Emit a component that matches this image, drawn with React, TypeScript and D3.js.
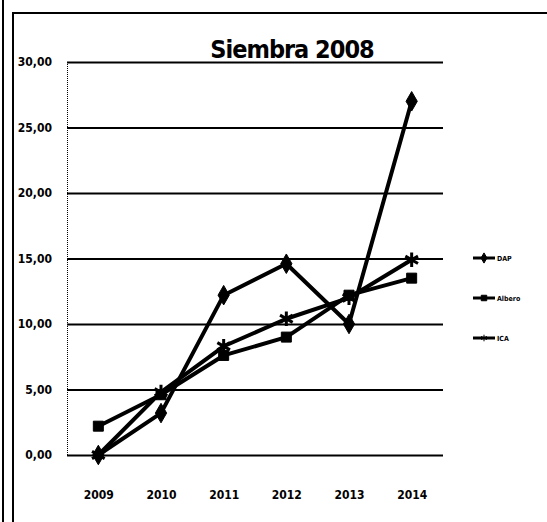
import * as d3 from 'd3';
import React, { useEffect, useRef } from 'react';

const years = ['2009', '2010', '2011', '2012', '2013', '2014'];
const dap = [0.0, 3.2, 12.2, 14.6, 10.0, 27.0];
const albero = [2.2, 4.6, 7.6, 9.0, 12.2, 13.5];
const ica = [0.0, 4.8, 8.3, 10.4, 12.0, 14.9];
const seriesNames = ['DAP', 'Albero', 'ICA'];
const yTicks = [0, 5, 10, 15, 20, 25, 30];

const width = 547;
const height = 522;
const marginTop = 62;
const marginRight = 104;
const marginBottom = 67;
const marginLeft = 67;
const font = '"DejaVu Sans Condensed", "DejaVu Sans", sans-serif';

export default function App() {
  const svgRef = useRef<SVGSVGElement | null>(null);

  useEffect(() => {
    const svg = d3.select(svgRef.current);
    svg.selectAll('*').remove();

    const x = d3.scalePoint<string>()
      .domain(years)
      .range([marginLeft, width - marginRight])
      .padding(0.5);

    const y = d3.scaleLinear()
      .domain([0, 30])
      .range([height - marginBottom, marginTop]);

    // outer frame bits
    svg.append('line').attr('x1', 3).attr('x2', 3).attr('y1', 0).attr('y2', height)
      .attr('stroke', '#000').attr('stroke-width', 2);
    svg.append('line').attr('x1', 13).attr('x2', 13).attr('y1', 13).attr('y2', height)
      .attr('stroke', '#000').attr('stroke-width', 2);
    svg.append('line').attr('x1', 12).attr('x2', width).attr('y1', 13).attr('y2', 13)
      .attr('stroke', '#000').attr('stroke-width', 2);

    // gridlines + y labels
    svg.append('g')
      .attr('transform', `translate(${marginLeft},0)`)
      .call(d3.axisLeft(y).tickValues(yTicks)
        .tickSize(-(width - marginLeft - marginRight))
        .tickPadding(15)
        .tickFormat(d => d3.format('.2f')(d as number).replace('.', ',')))
      .call(g => g.select('.domain').attr('stroke', '#000').attr('stroke-width', 1)
        .attr('stroke-dasharray', '1,1').attr('d', `M0.5,${marginTop}V${height - marginBottom}`))
      .call(g => g.selectAll('.tick line').attr('stroke', '#000').attr('stroke-width', 2))
      .call(g => g.selectAll('.tick text')
        .attr('font-family', font).attr('font-weight', 'bold').attr('font-size', 12)
        .attr('fill', '#000'));

    // x labels
    svg.append('g')
      .attr('transform', `translate(0,${height - marginBottom})`)
      .call(d3.axisBottom(x).tickSize(0).tickPadding(35))
      .call(g => g.select('.domain').remove())
      .call(g => g.selectAll('.tick text')
        .attr('font-family', font).attr('font-weight', 'bold').attr('font-size', 12)
        .attr('fill', '#000'));

    // title
    svg.append('text')
      .attr('x', 292).attr('y', 58)
      .attr('text-anchor', 'middle')
      .attr('font-family', font).attr('font-weight', 'bold').attr('font-size', 25)
      .attr('letter-spacing', -1)
      .text('Siembra 2008');

    const data = [dap, albero, ica];
    const symbols = [d3.symbolDiamond, d3.symbolSquare, d3.symbolAsterisk];
    const sizes = [110, 100, 150];

    const line = d3.line<number>()
      .x((_, i) => x(years[i])!)
      .y(d => y(d));

    data.forEach((vals, s) => {
      svg.append('path')
        .datum(vals)
        .attr('fill', 'none')
        .attr('stroke', '#000')
        .attr('stroke-width', 4)
        .attr('stroke-linejoin', 'round')
        .attr('d', line);

      const sym = d3.symbol().type(symbols[s]).size(sizes[s]);
      svg.append('g').selectAll('path')
        .data(vals)
        .join('path')
        .attr('transform', (d, i) => `translate(${x(years[i])},${y(d)})`)
        .attr('d', sym)
        .attr('fill', '#000')
        .attr('stroke', '#000')
        .attr('stroke-width', s === 2 ? 3 : 1);
    });

    // legend
    const legend = svg.append('g').attr('transform', 'translate(473,258)');
    seriesNames.forEach((name, s) => {
      const g = legend.append('g').attr('transform', `translate(0,${s * 40})`);
      g.append('line').attr('x1', 0).attr('x2', 22).attr('y1', 0).attr('y2', 0)
        .attr('stroke', '#000').attr('stroke-width', 3);
      g.append('path').attr('transform', 'translate(11,0)')
        .attr('d', d3.symbol().type(symbols[s]).size(30)).attr('fill', '#000')
        .attr('stroke', '#000');
      g.append('text').attr('x', 24).attr('y', 3)
        .attr('font-family', font).attr('font-weight', 'bold').attr('font-size', 7)
        .text(name);
    });
  }, []);

  return (
    <svg ref={svgRef} width={width} height={height}
      style={{ position: 'absolute', left: 0, top: 0, background: '#fff' }} />
  );
}
